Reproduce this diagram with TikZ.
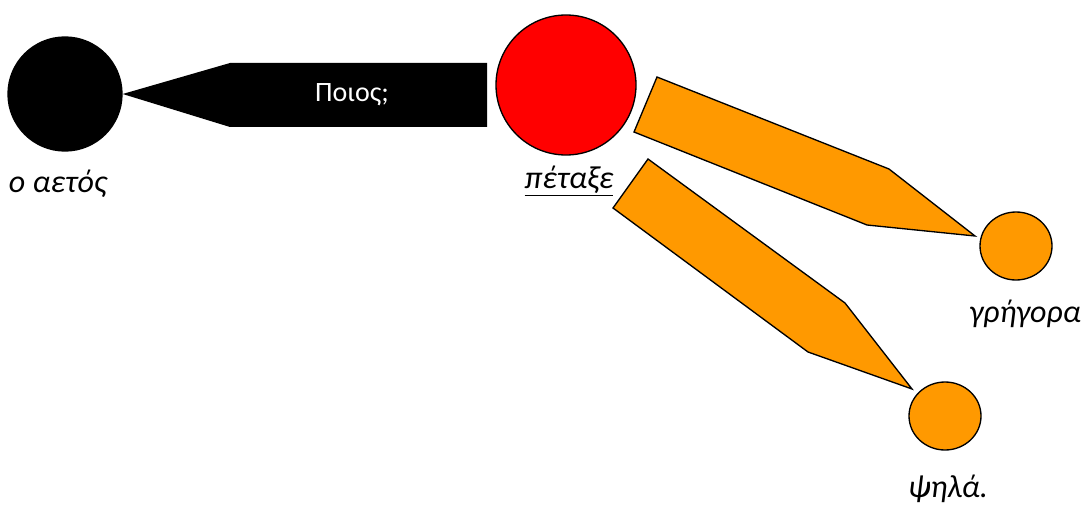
\documentclass[tikz,border=0pt]{standalone}
\usepackage{fontspec}
\setmainfont{Carlito}
\usepackage{tikz}
\usetikzlibrary{shapes.geometric}
\definecolor{wordorange}{RGB}{255,153,0}
\definecolor{wordred}{RGB}{255,0,0}
\tikzset{wordnode/.style={circle, draw=black, line width=1pt, inner sep=0pt}}
\tikzset{smallword/.style={ellipse, draw=black, fill=wordorange, line width=1pt,
  inner sep=0pt, minimum width=54pt, minimum height=51pt}}
\tikzset{linkshape/.style={draw=black, fill=wordorange, line width=1pt, line join=miter}}
\tikzset{wordlabel/.style={anchor=base, inner sep=0pt, font=\fontsize{24}{28}\selectfont\itshape}}

\begin{document}
\begin{tikzpicture}[x=0.75pt, y=-0.75pt]
  \useasboundingbox (0,0) rectangle (1084,506);
  % words
  \node[wordnode, fill=black, minimum size=85.5pt] (aetos) at (65,94) {};
  \node[wordnode, fill=wordred, minimum size=105pt] (petaxe) at (566,85) {};
  \node[smallword] (grigora) at (1016,246) {};
  \node[smallword] (psila) at (945,416) {};
  % links
  \fill[black] (aetos.east) -- (230,63) -- (487,63) -- (487,127) -- (230,127) -- cycle;
  \node[text=white, font=\fontsize{21}{25}\selectfont] (who) at (352,95) {Ποιος;};
  \draw[linkshape] (657,77) -- (889,169) -- (975,236) -- (867,225) -- (634,132) -- cycle;
  \draw[linkshape] (648,159) -- (845,303) -- (912,389) -- (808,352) -- (613,208) -- cycle;
  % labels
  \node[wordlabel] (laetos) at (58,192) {ο αετός};
  \node[wordlabel] (lpetaxe) at (569,188) {\underline{πέταξε}};
  \node[wordlabel] (lgrigora) at (1025,322) {γρήγορα};
  \node[wordlabel] (lpsila) at (948,497) {ψηλά.};
\end{tikzpicture}
\end{document}
